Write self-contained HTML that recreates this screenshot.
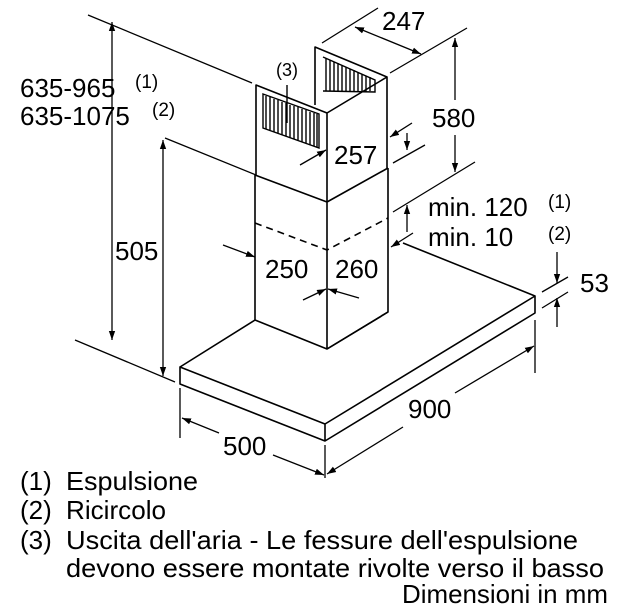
<!DOCTYPE html>
<html><head><meta charset="utf-8"><style>
html,body{margin:0;padding:0;background:#fff;}
svg{display:block;}
text{font-family:"Liberation Sans",Arial,sans-serif;fill:#000;}
</style></head><body>
<svg width="628" height="610" viewBox="0 0 628 610" xmlns="http://www.w3.org/2000/svg">
<defs>
<marker id="a" viewBox="0 0 10 10" refX="10" refY="5" markerWidth="9" markerHeight="9" orient="auto-start-reverse" markerUnits="userSpaceOnUse"><path d="M0,1.5 L10,5 L0,8.5 z" fill="#000"/></marker>
</defs>
<g stroke="#000" stroke-width="1.6" fill="none" stroke-linejoin="round">
<path d="M180,367 L255,320 M327,349 L388,312 M403,243 L535,296 L325,424 L180,367 L180,384 L325,441 L535,313 L535,296 M325,424 L325,441"/>
<path d="M255,175 L255,320 L327,349 L388,312 L388,168 M327,202 L327,349 M255,175 L327,202 L388,168"/>
<path d="M255,223 L327,250 L388,218" stroke-dasharray="7,5"/>
<path d="M256,175 L256,85 L327,113 L387,77 L387,168 M327,113 L327,202 M315,105 L315,47 L387,77"/>
</g>
<g stroke="#000" stroke-width="1.4">
<path d="M263,94 L319,114 L319,148 L263,128 Z" fill="#fff"/>
<path d="M266,96 v33 M270,97 v33 M274,99 v33 M278,100 v33 M282,102 v33 M286,103 v33 M290,105 v33 M294,106 v33 M298,107 v33 M302,109 v33 M306,110 v33 M310,112 v33 M314,113 v33 M317,114 v33"/>
<path d="M323,57 L375,80 L375,92 L323,91" fill="none"/>
<path d="M326,58 v33 M330,60 v31 M334,62 v29 M338,63 v28 M342,65 v27 M346,67 v25 M350,69 v23 M354,70 v22 M358,72 v20 M362,74 v18 M366,76 v16 M370,77 v14"/>
<path d="M287,85 v38"/>
</g>
<g stroke="#000" stroke-width="1.3" fill="none">
<path d="M88,15 L252,83 M165,138 L256,175 M75,340 L175,382"/>
<path d="M322,43 L378,8 M390,73 L467,28 M393,163 L425,145 M393,212 L475,162 M542,292 L568,277 M542,308 L568,292"/>
<path d="M180,388 V438 M325,445 V478 M535,320 V373"/>
<path d="M112,22 V340" marker-start="url(#a)" marker-end="url(#a)"/>
<path d="M163,140 V376" marker-start="url(#a)" marker-end="url(#a)"/>
<path d="M355,27 L421,54" marker-start="url(#a)" marker-end="url(#a)"/>
<path d="M455,38 V100" marker-start="url(#a)"/>
<path d="M455,135 V172" marker-end="url(#a)"/>
<path d="M412,123 L390,137" marker-end="url(#a)"/>
<path d="M407,133 V150" marker-end="url(#a)"/>
<path d="M300,165 L326,150" marker-end="url(#a)"/>
<path d="M407,232 V205" marker-end="url(#a)"/>
<path d="M413,233 L391,247" marker-end="url(#a)"/>
<path d="M223,245 L255,257" marker-end="url(#a)"/>
<path d="M303,300 L326,289" marker-end="url(#a)"/>
<path d="M359,298 L328,289" marker-end="url(#a)"/>
<path d="M557,252 V283" marker-end="url(#a)"/>
<path d="M557,327 V298" marker-end="url(#a)"/>
<path d="M219,433 L182,418" marker-end="url(#a)"/>
<path d="M273,455 L324,475" marker-end="url(#a)"/>
<path d="M403,427 L327,474" marker-end="url(#a)"/>
<path d="M455,393 L534,346" marker-end="url(#a)"/>
</g>
<g font-size="26">
<text x="20" y="97">635-965</text><text x="135" y="88" font-size="19">(1)</text>
<text x="20" y="125">635-1075</text><text x="152" y="116" font-size="19">(2)</text>
<text x="115" y="260">505</text>
<text x="276" y="76" font-size="18">(3)</text>
<text x="382" y="30">247</text>
<text x="432" y="127">580</text>
<text x="334" y="164">257</text>
<text x="428" y="216">min. 120</text><text x="548" y="208" font-size="19">(1)</text>
<text x="428" y="246">min. 10</text>
<text x="548" y="240" font-size="19">(2)</text>
<text x="580" y="292">53</text>
<text x="265" y="278">250</text>
<text x="335" y="278">260</text>
<text x="408" y="418">900</text>
<text x="223" y="455">500</text>
</g>
<g font-size="26">
<text x="20" y="490">(1)</text><text x="66" y="490" textLength="132" lengthAdjust="spacingAndGlyphs">Espulsione</text>
<text x="20" y="519">(2)</text><text x="66" y="519" textLength="100" lengthAdjust="spacingAndGlyphs">Ricircolo</text>
<text x="20" y="549">(3)</text><text x="66" y="549" textLength="512" lengthAdjust="spacingAndGlyphs">Uscita dell'aria - Le fessure dell'espulsione</text>
<text x="66" y="577" textLength="538" lengthAdjust="spacingAndGlyphs">devono essere montate rivolte verso il basso</text>
<text x="402" y="603" textLength="206" lengthAdjust="spacingAndGlyphs">Dimensioni in mm</text>
</g>
</svg>
</body></html>
